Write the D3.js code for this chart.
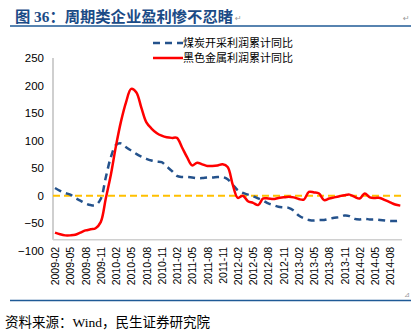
<!DOCTYPE html>
<html><head><meta charset="utf-8">
<script src="https://cdn.jsdelivr.net/npm/d3@7"></script>
<style>
html,body{margin:0;padding:0;background:#fff;}
svg{display:block;}
</style></head>
<body>
<svg id="chart" width="420" height="331"></svg>
<script>
// ---- data ----
const months = (function(){
  const out=[]; let y=2009, m=2;
  while(!(y===2014 && m===11)){ out.push(y+"-"+String(m).padStart(2,"0")); m++; if(m>12){m=1;y++;} }
  return out;
})();
const tickLabels = ["2009-02","2009-05","2009-08","2009-11","2010-02","2010-05","2010-08","2010-11",
  "2011-02","2011-05","2011-08","2011-11","2012-02","2012-05","2012-08","2012-11",
  "2013-02","2013-05","2013-08","2013-11","2014-02","2014-05","2014-08"];
const yTicks = [-100,-50,0,50,100,150,200,250];
const seriesNames = ["煤炭开采利润累计同比","黑色金属利润累计同比"];
const coal = [14,9,5,2,-4,-9,-14,-17,-17,-6,33,70,92,95,88,82,76,71,67,64,62,61,53,45,36,34,34,33,32,32,
  33,33,34,34,30,20,10,5,2,-1,-5,-9,-14,-17,-20,-21,-22,-27,-36,-41,-44,-45,-44,-44,-42,-40,-39,-36,-37,-42,
  -43,-42,-43,-43,-44,-45,-46,-46,-45];
const steel = [-67,-70,-72,-72,-71,-67,-63,-61,-59,-48,-5,38,90,135,170,194,188,160,133,122,114,109,106,105,105,88,70,55,60,57,
  54,54,55,57,52,20,-4,0,-10,-13,-17,-5,-5,-6,-4,-3,-2,-3,-6,-7,7,6,4,-8,-5,-3,-1,1,2,-2,
  -5,4,-3,-4,-4,-8,-12,-16,-18];
const zeroLine = [0];

// ---- layout ----
const svg = d3.select("#chart");
const x = d3.scalePoint().domain(months).range([55, 400.3]);
const y = d3.scaleLinear().domain([-100,250]).range([250.8, 58]);
const left = 53, right = 402;

// title
const title = svg.append("text").attr("x",15).attr("y",22)
  .attr("font-family","'Liberation Serif','Noto Sans CJK SC',serif")
  .attr("font-weight","bold").attr("font-size",15.3).attr("fill","#1b4b86")
  .text("图 36：周期类企业盈利惨不忍睹");
const tw = title.node().getComputedTextLength();
svg.append("text").attr("x",15+tw+2).attr("y",21).attr("font-size",8).attr("fill","#999")
  .attr("font-family","DejaVu Sans").text("↵");
svg.append("text").attr("x",403).attr("y",21).attr("font-size",8).attr("fill","#999")
  .attr("font-family","DejaVu Sans").text("↵");
svg.append("line").attr("x1",10).attr("x2",411).attr("y1",26).attr("y2",26)
  .attr("stroke","#1f5a96").attr("stroke-width",1.5);
svg.append("line").attr("x1",10).attr("x2",411).attr("y1",300.5).attr("y2",300.5)
  .attr("stroke","#1f5a96").attr("stroke-width",1.5);
svg.append("text").attr("x",5).attr("y",327)
  .attr("font-family","'Liberation Serif','Noto Sans CJK SC',serif")
  .attr("font-size",13.5).attr("fill","#000")
  .text("资料来源：Wind，民生证券研究院");
svg.append("text").attr("x",404).attr("y",297).attr("font-size",7).attr("fill","#999")
  .attr("font-family","DejaVu Sans").text("⊿");

// axes lines
svg.append("line").attr("x1",left).attr("x2",left).attr("y1",y(250)).attr("y2",y(-80))
  .attr("stroke","#bfbfbf").attr("stroke-width",1.5);
svg.append("line").attr("x1",left).attr("x2",right).attr("y1",y(-80)).attr("y2",y(-80))
  .attr("stroke","#d0d0d0").attr("stroke-width",1.5);

// y axis labels
const ya = svg.append("g").attr("transform",`translate(${left},0)`)
  .call(d3.axisLeft(y).tickValues(yTicks).tickSize(0).tickPadding(9));
ya.select(".domain").remove();
ya.selectAll("text").attr("font-family","'Liberation Sans Narrow','Liberation Sans',Arial")
  .attr("font-size",11.5).attr("fill","#000");

// x axis labels
const xa = svg.append("g").attr("transform",`translate(0,${y(-80)})`)
  .call(d3.axisBottom(x).tickValues(tickLabels).tickSize(0));
xa.select(".domain").remove();
xa.selectAll("text").attr("transform","rotate(-90)").attr("x",-7).attr("y",0).attr("dy","0.35em")
  .attr("text-anchor","end").attr("font-family","'Liberation Sans',Arial")
  .attr("font-size",10.5).attr("fill","#000");

// zero line
svg.selectAll(".zero").data(zeroLine).enter().append("line")
  .attr("x1",left).attr("x2",right).attr("y1",d=>y(d)).attr("y2",d=>y(d))
  .attr("stroke","#ffc000").attr("stroke-width",2).attr("stroke-dasharray","7,4");

const line = d3.line().x((d,i)=>x(months[i])).y(d=>y(d)).curve(d3.curveCatmullRom.alpha(0.5));
svg.append("path").datum(coal).attr("d",line).attr("fill","none")
  .attr("stroke","#24528c").attr("stroke-width",2.5).attr("stroke-dasharray","7,5");
svg.append("path").datum(steel).attr("d",line).attr("fill","none")
  .attr("stroke","#ff0000").attr("stroke-width",2.5);

// legend
const lg = svg.append("g");
lg.append("line").attr("x1",153).attr("x2",183).attr("y1",43).attr("y2",43)
  .attr("stroke","#24528c").attr("stroke-width",2.5).attr("stroke-dasharray","7,5");
lg.append("line").attr("x1",153).attr("x2",183).attr("y1",58).attr("y2",58)
  .attr("stroke","#ff0000").attr("stroke-width",2.5);
lg.selectAll("text").data(seriesNames).enter().append("text")
  .attr("x",183).attr("y",(d,i)=>43+i*15).attr("dy","0.36em")
  .attr("font-family","'Noto Sans CJK SC'").attr("font-size",11).attr("fill","#000")
  .text(d=>d);
</script>
</body></html>
